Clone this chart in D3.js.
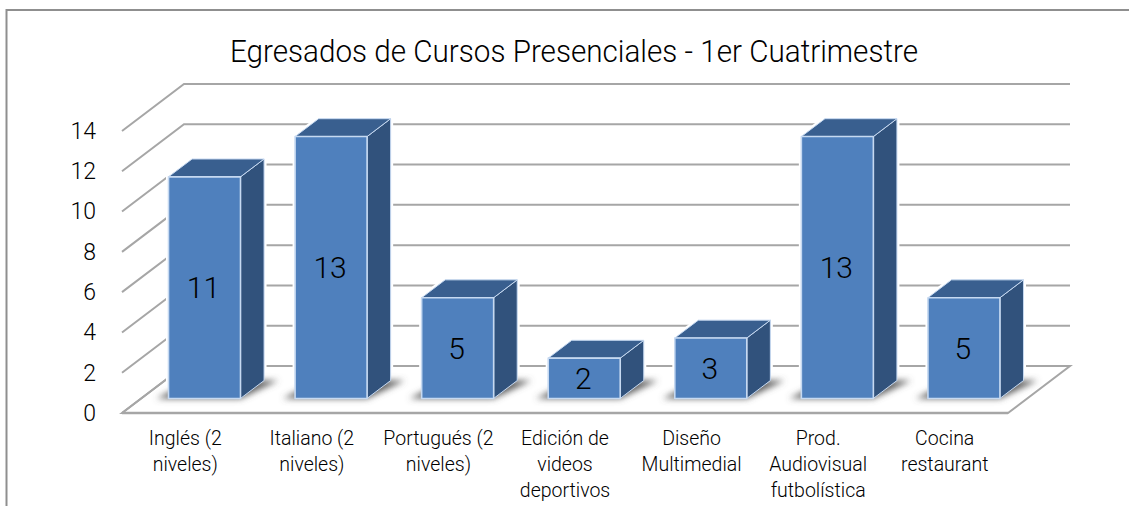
<!DOCTYPE html>
<html>
<head>
<meta charset="utf-8">
<script src="https://cdn.jsdelivr.net/npm/d3@7"></script>
<style>
  html, body { margin: 0; padding: 0; background: #fff; }
  svg { display: block; }
  text { font-family: Roboto, sans-serif; fill: #000; }
</style>
</head>
<body>
<div id="svgRoot"></div>
<script>
const title = "Egresados de Cursos Presenciales - 1er Cuatrimestre";
const categories = ["Inglés (2 niveles)", "Italiano (2 niveles)", "Portugués (2 niveles)", "Edición de videos deportivos", "Diseño Multimedial", "Prod. Audiovisual futbolística", "Cocina restaurant"];
const categoryLines = [
  ["Inglés (2", "niveles)"],
  ["Italiano (2", "niveles)"],
  ["Portugués (2", "niveles)"],
  ["Edición de", "videos", "deportivos"],
  ["Diseño", "Multimedial"],
  ["Prod.", "Audiovisual", "futbolística"],
  ["Cocina", "restaurant"]
];
const values = [11, 13, 5, 2, 3, 13, 5];
const yTicks = [0, 2, 4, 6, 8, 10, 12, 14];

const width = 1129, height = 506;

const svg = d3.select("#svgRoot").append("svg")
  .attr("width", width)
  .attr("height", height);

// scales: x along the front edge, y up the front, z into the "depth" of the 3d box
const x = d3.scaleBand().domain(categories).range([122, 1008]);
const y = d3.scaleLinear().domain([0, 14]).range([413, 131]);
const zx = d3.scaleLinear().domain([0, 1]).range([0, 62]);
const zy = d3.scaleLinear().domain([0, 1]).range([0, -47]);

// project a point on the 3d box to the screen
const pt = (px, v, z) => [px + zx(z), y(v) + zy(z)];
const poly = (pts) => pts.map((p) => p.join(",")).join(" ");

const gridColor = "#a6a6a6";
const barW = 72, zNear = 0.31, zFar = 0.69;

svg.append("defs").append("filter")
  .attr("id", "blur")
  .attr("x", "-30%").attr("y", "-50%")
  .attr("width", "160%").attr("height", "200%")
  .append("feGaussianBlur").attr("stdDeviation", 3);

// chart frame, only top and left show
svg.append("path")
  .attr("d", d3.line()([[6.5, height], [6.5, 10], [width, 10]]))
  .attr("fill", "none")
  .attr("stroke", "#8f8f8f")
  .attr("stroke-width", 2);

svg.append("text")
  .text(title)
  .attr("x", 574)
  .attr("y", 62)
  .attr("text-anchor", "middle")
  .attr("textLength", 688)
  .attr("lengthAdjust", "spacingAndGlyphs")
  .style("font-size", "31px")
  .style("font-weight", 300);

// floor outline
svg.append("polygon")
  .attr("points", poly([pt(122, 0, 0), pt(122, 0, 1), pt(1008, 0, 1), pt(1008, 0, 0)]))
  .attr("fill", "#fff")
  .attr("stroke", gridColor)
  .attr("stroke-width", 2);

// back wall + left wall gridlines
svg.append("g").selectAll("path")
  .data(yTicks)
  .enter()
  .append("path")
  .attr("d", (d) => d3.line()([pt(122, d, 0), pt(122, d, 1), pt(1008, d, 1)]))
  .attr("fill", "none")
  .attr("stroke", gridColor)
  .attr("stroke-width", 2);

// front floor edge a bit heavier
svg.append("line")
  .attr("x1", 122).attr("x2", 1008)
  .attr("y1", y(0)).attr("y2", y(0))
  .attr("stroke", gridColor)
  .attr("stroke-width", 2.5);

const bars = categories.map((c, i) => {
  const x0 = x(c) + x.bandwidth() / 2 - barW / 2;
  return { name: c, value: values[i], x0: x0, x1: x0 + barW };
});

// white halo that cuts the gridlines around every bar
svg.append("g").selectAll("polygon")
  .data(bars)
  .enter()
  .append("polygon")
  .attr("points", (d) => poly([
    pt(d.x0, 0, zNear), pt(d.x0, d.value, zNear), pt(d.x0, d.value, zFar),
    pt(d.x1, d.value, zFar), pt(d.x1, 0, zFar), pt(d.x1, 0, zNear)
  ]))
  .attr("fill", "#fff")
  .attr("stroke", "#fff")
  .attr("stroke-width", 5);

// soft shadow on the floor
svg.append("g").selectAll("polygon")
  .data(bars)
  .enter()
  .append("polygon")
  .attr("points", (d) => poly([
    pt(d.x0 - 12, 0, zNear), pt(d.x1, 0, zNear),
    pt(d.x1 + 14, 0, zFar), pt(d.x0, 0, zFar)
  ]))
  .attr("fill", "#5f5f5f")
  .attr("filter", "url(#blur)");

// bars: side, top, front
const barG = svg.append("g").selectAll("g")
  .data(bars)
  .enter()
  .append("g")
  .attr("stroke", "#c6d9f1")
  .attr("stroke-width", 1.6)
  .attr("stroke-linejoin", "round");

barG.append("polygon")
  .attr("points", (d) => poly([pt(d.x1, 0, zNear), pt(d.x1, d.value, zNear), pt(d.x1, d.value, zFar), pt(d.x1, 0, zFar)]))
  .attr("fill", "#31527c")
  .attr("stroke-width", 1);

barG.append("polygon")
  .attr("points", (d) => poly([pt(d.x0, d.value, zNear), pt(d.x1, d.value, zNear), pt(d.x1, d.value, zFar), pt(d.x0, d.value, zFar)]))
  .attr("fill", "#395f8f")
  .attr("stroke-width", 1);

barG.append("polygon")
  .attr("points", (d) => poly([pt(d.x0, 0, zNear), pt(d.x1, 0, zNear), pt(d.x1, d.value, zNear), pt(d.x0, d.value, zNear)]))
  .attr("fill", "#4f80bd");

// value labels in the middle of the front face
svg.append("g").selectAll("text")
  .data(bars)
  .enter()
  .append("text")
  .text((d) => d.value)
  .attr("x", (d) => pt((d.x0 + d.x1) / 2, 0, zNear)[0] - 1)
  .attr("y", (d) => pt(d.x0, d.value / 2, zNear)[1])
  .attr("dy", "0.36em")
  .attr("text-anchor", "middle")
  .style("font-size", "30px")
  .style("font-weight", 300);

// Y axis
const yAxis = svg.append("g")
  .attr("transform", "translate(102,0)")
  .call(d3.axisLeft(y).tickValues(yTicks).tickSize(0).tickPadding(6));
yAxis.select(".domain").remove();
yAxis.selectAll("text")
  .style("font-family", "Roboto, sans-serif")
  .style("font-size", "23px")
  .style("font-weight", 300)
  .style("fill", "#000");

// X axis, labels split on their own lines
const xAxis = svg.append("g")
  .attr("transform", "translate(0," + y(0) + ")")
  .call(d3.axisBottom(x).tickSize(0));
xAxis.select(".domain").remove();
xAxis.selectAll("text")
  .text(null)
  .attr("y", 0)
  .attr("dy", null)
  .style("font-family", "Roboto, sans-serif")
  .style("font-size", "19.5px")
  .style("font-weight", 300)
  .style("fill", "#000")
  .selectAll("tspan")
  .data((d) => categoryLines[categories.indexOf(d)])
  .enter()
  .append("tspan")
  .attr("x", 0)
  .attr("y", (d, i) => 32 + i * 26)
  .text((d) => d);
</script>
</body>
</html>
